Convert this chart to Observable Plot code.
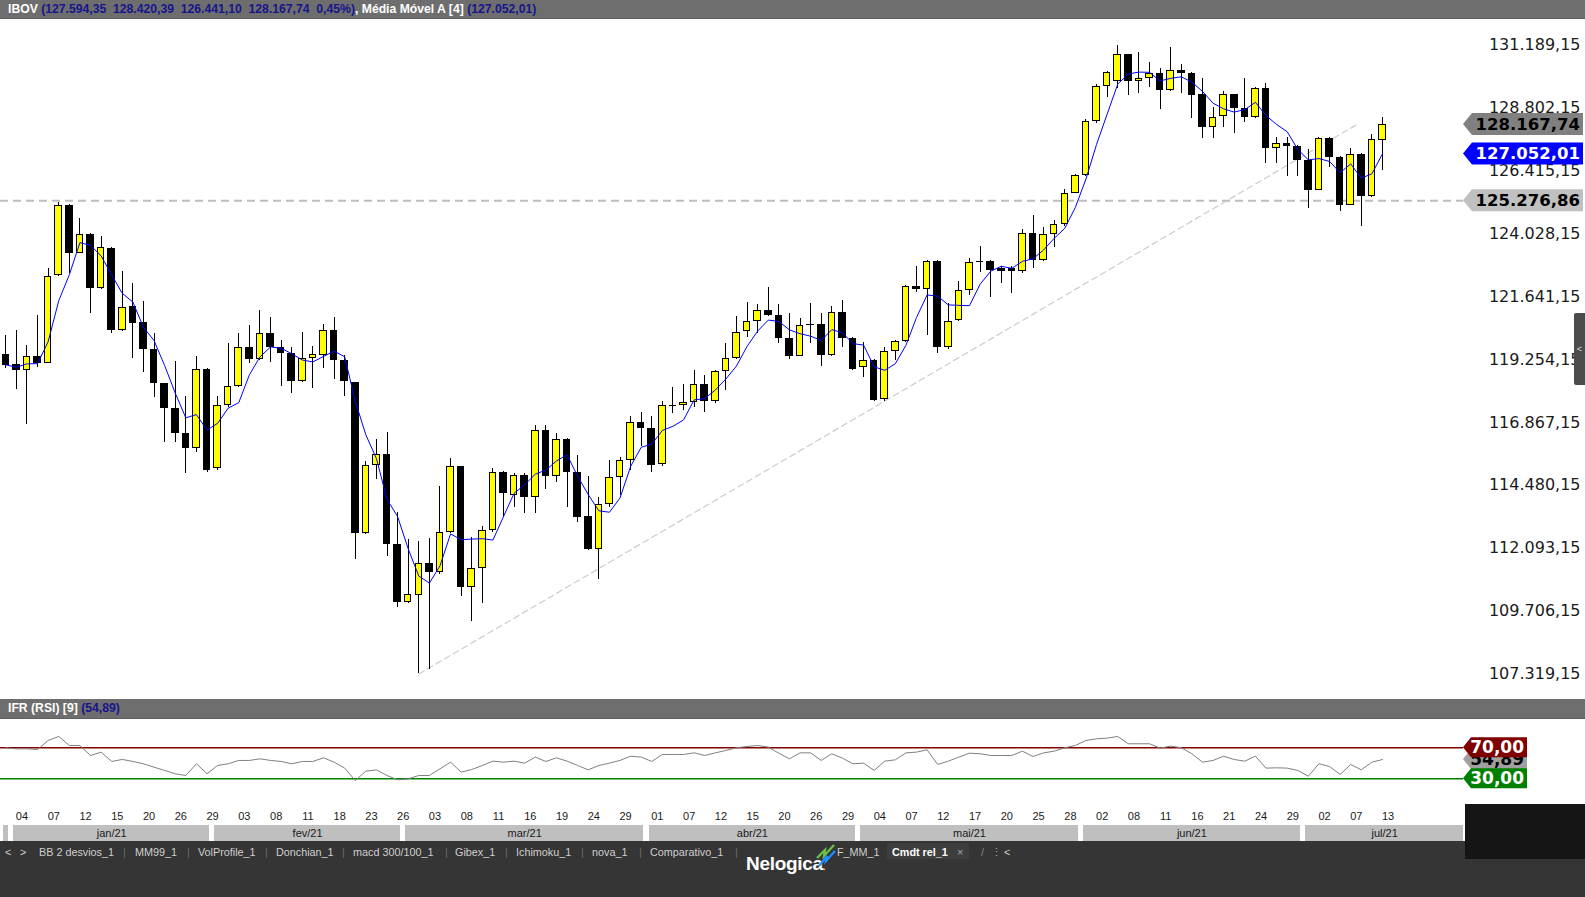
<!DOCTYPE html>
<html lang="pt-BR">
<head>
<meta charset="utf-8">
<title>IBOV</title>
<script src="https://cdn.jsdelivr.net/npm/d3@7"></script>
<script src="https://cdn.jsdelivr.net/npm/@observablehq/plot@0.6"></script>
<style>
  html, body { margin: 0; padding: 0; background: #fff; }
  #root { position: relative; width: 1585px; height: 897px; overflow: hidden; background: #fff; font-family: "Liberation Sans", Arial, sans-serif; }
  .abs { position: absolute; }
  .hbar { position: absolute; left: 0; width: 1585px; background: #6e6e6e; color: #fff; font-weight: bold; font-size: 12.2px; white-space: pre; box-sizing: border-box; border-bottom: 1px solid #5e5e5e; }
  .hbar .n { color: #16168c; }
  .tab { position: absolute; top: 845px; font-size: 10.8px; color: #cfcfcf; white-space: pre; line-height: 14px; }
  .sep { color: #6c6c6c; }
  svg { display: block; }
</style>
</head>
<body>
<div id="root">
  <div class="hbar" style="top:0;height:19px;line-height:18px;padding-left:8px">IBOV <span class="n">(127.594,35  128.420,39  126.441,10  128.167,74  0,45%)</span>, Média Móvel A [4] <span class="n">(127.052,01)</span></div>
  <div id="main" class="abs" style="left:0;top:19px"></div>
  <div class="abs" style="left:1574px;top:313px;width:11px;height:72px;background:#4b4b4b;border-radius:2px 0 0 2px;color:#ddd;font-size:9px;line-height:72px;text-align:center">&lt;</div>
  <div class="hbar" style="top:699px;height:20px;line-height:19px;padding-left:8px">IFR (RSI) [9] <span class="n">(54,89)</span></div>
  <div id="rsi" class="abs" style="left:0;top:719px"></div>
  <div id="dates" class="abs" style="left:0;top:795px"></div>
  <div class="abs" style="left:0;top:841px;width:1585px;height:56px;background:#353535"></div>
  <div class="abs" style="left:1465px;top:804px;width:120px;height:55px;background:#151515"></div>

  <div class="tab" style="left:5px">&lt;</div>
  <div class="tab" style="left:20px">&gt;</div>
  <div class="tab" style="left:39px">BB 2 desvios_1</div>
  <div class="tab sep" style="left:123px">|</div>
  <div class="tab" style="left:135px">MM99_1</div>
  <div class="tab sep" style="left:187px">|</div>
  <div class="tab" style="left:198px">VolProfile_1</div>
  <div class="tab sep" style="left:265px">|</div>
  <div class="tab" style="left:276px">Donchian_1</div>
  <div class="tab sep" style="left:342px">|</div>
  <div class="tab" style="left:353px">macd 300/100_1</div>
  <div class="tab sep" style="left:445px">|</div>
  <div class="tab" style="left:455px">Gibex_1</div>
  <div class="tab sep" style="left:505px">|</div>
  <div class="tab" style="left:516px">Ichimoku_1</div>
  <div class="tab sep" style="left:581px">|</div>
  <div class="tab" style="left:592px">nova_1</div>
  <div class="tab sep" style="left:639px">|</div>
  <div class="tab" style="left:650px">Comparativo_1</div>
  <div class="tab sep" style="left:735px">|</div>
  <div class="tab" style="left:837px">F_MM_1</div>
  <div class="abs" style="left:887px;top:843px;width:82px;height:16px;background:#3e3e3e"></div>
  <div class="tab" style="left:892px;color:#fff;font-weight:bold">Cmdt rel_1</div>
  <div class="tab" style="left:957px;color:#aaa">×</div>
  <div class="tab" style="left:981px;color:#888">/</div>
  <div class="tab" style="left:991px;color:#aaa">⋮</div>
  <div class="tab" style="left:1004px;color:#ccc">&lt;</div>
  <div class="abs" style="left:746px;top:853px;font-size:19px;font-weight:bold;color:#fff;letter-spacing:-0.3px;line-height:22px">Nelogica<span style="font-size:9px">.</span></div>
  <svg class="abs" style="left:815px;top:842px" width="22" height="26" viewBox="0 0 22 26">
    <polyline points="2,16 10,8 9,14 19,3" fill="none" stroke="#6cc24a" stroke-width="2.2"/>
    <polyline points="4,24 12,14 11,19 20,9" fill="none" stroke="#1e90ff" stroke-width="2.2"/>
  </svg>
</div>

<script>
// ---------- data ----------
const open = [
  119406,119027,118862,119356,119128,122442,125086,123302,123986,121974,
  123454,120380,121253,120646,119621,118306,117382,116433,115902,118862,
  115131,117534,118255,119697,119279,120228,119697,119469,118444,119317,
  119431,120329,119216,118368,112676,115257,115636,112221,110057,110323,
  111499,111196,112714,115168,110614,111348,112790,114953,114119,114840,
  114043,116547,114840,116206,114953,113258,112069,113777,114789,115447,
  116851,116623,115295,117500,117534,117660,118293,117698,118836,119317,
  120317,120721,121101,120911,120038,119393,120580,120570,119431,121025,
  120038,118976,119203,117761,119595,119975,122024,121936,122973,119722,
  120759,121898,122973,122973,122695,122695,122631,124023,123036,124023,
  124402,125579,126262,128299,129640,129817,130791,129842,129943,130095,
  129488,130209,130095,129273,128071,128476,129273,128767,128450,129526,
  127287,127438,127337,126806,125693,127628,126907,125124,127021,125465,
  127594.35
];
const high = [
  120165,120355,119786,120924,122695,125225,125150,124593,124049,123922,
  123500,122594,122126,121456,120228,118350,119179,117850,119368,118900,
  117850,119848,120228,120544,121113,120860,119975,119722,120266,119747,
  120582,120835,119406,118400,115370,116205,116471,113435,112410,112350,
  112450,114447,115485,115200,112487,112917,115105,115000,114915,114941,
  116750,116750,116459,116250,115611,114814,114030,115421,115523,117091,
  117230,117091,117661,118179,118305,118836,118647,118850,119848,120886,
  121404,121329,121974,121329,120987,120797,121366,120987,121265,121480,
  120101,119886,119250,119722,119975,122050,122783,123000,123000,121366,
  122227,123074,123542,123000,122796,122796,124175,124719,124251,124529,
  125693,126280,128349,129680,130180,131189,130830,130892,130512,130285,
  131107,130449,130130,129905,128805,129437,129320,129905,129580,129741,
  127691,127691,127380,127223,127666,127660,126950,127274,127060,127793,
  128420.39
];
const low = [
  118926,118103,116775,118938,119100,122400,122531,123264,121013,121900,
  120228,120300,119280,118748,117800,116117,116117,114915,115738,114979,
  115050,117450,118200,119089,119200,119153,118242,117976,118400,118166,
  118900,118508,117862,111651,112600,114687,111765,109842,110000,107319,
  107500,111100,112650,110273,109324,110007,112700,113271,113650,113397,
  113423,114308,114599,113625,113081,112000,110905,113650,114093,115042,
  115953,114979,115200,117192,117318,117450,117250,117600,118077,119250,
  120101,120228,120900,119848,119241,119350,119874,118988,119380,119722,
  118850,118558,117660,117660,119216,119900,121809,120165,119469,119650,
  120700,121683,122568,121619,122151,121771,122530,122720,122980,123492,
  124301,125540,126200,128197,129184,129526,129273,129336,129564,128729,
  129430,129336,128387,127628,127628,128071,127843,128261,128400,126705,
  126679,126211,126211,124997,125650,126553,124883,125080,124314,125420,
  126441.10
];
const close = [
  119052,118862,119356,119115,122379,125086,123302,123986,121974,123492,
  120380,121215,120646,119659,118369,117420,116471,115902,118862,115067,
  117496,118204,119697,119279,120228,119722,119494,118444,119279,119431,
  120329,119241,118444,112676,115219,115636,112258,110057,110323,111499,
  111196,112676,115168,110614,111298,112740,114953,114182,114840,114030,
  116547,114827,116206,114979,113271,112057,113739,114764,115421,116851,
  116649,115244,117496,117490,117609,118293,117698,118786,119279,120266,
  120683,121101,120949,120064,119393,120532,120570,119418,121025,120076,
  118900,119203,117723,119545,119912,121999,121936,122973,119722,120671,
  121872,122922,122960,122657,122631,122606,124023,123036,123985,124365,
  125541,126224,128286,129614,130133,130791,129817,129905,130095,129488,
  130209,130133,129298,128071,128425,129273,128805,128450,129526,127274,
  127438,127363,126831,125693,127628,126932,125124,127021,125465,127590,
  128167.74
];
const rsi = [
  70,68.7,68.7,67.8,79.5,84.6,73,73,60,64.4,
  52.4,55,52.4,49.4,45,40.8,36.5,34.3,49.4,36.5,
  47.2,49.4,53.7,53.7,55.8,53.7,52.4,49.4,52.4,52.4,
  57.1,51.5,43.8,27.8,39.9,41.6,34.3,28.7,30,34.3,
  34.3,42.9,51.5,38.6,42,47.2,52.8,51.5,52.8,50.2,
  58,52.4,57.1,52.8,47.2,41.6,47.2,50.2,53.7,59.2,
  58,52.4,61.4,61.4,61.4,63.5,60.1,63.5,66.6,70,
  71.7,73,70.9,63,55.8,63.5,63.5,53.7,62.3,56.7,
  49.4,50.2,40.8,52.8,54.5,63.5,64.4,67.4,48.5,52.8,
  58,63.1,62.3,60.1,60.1,60.1,65.7,58.8,63.5,65.7,
  70,73,79.5,81.6,82.5,84.6,75.2,75.2,75.2,69.6,
  72.2,70,62.3,51.5,53.7,59.2,54.9,52.8,59.2,43.8,
  44.2,43.8,40.8,33.4,49.4,45.9,35.6,48.5,41.6,51.5,
  54.89
];
const refLevel = 125276.86;     // horizontal dashed level
const maLast = 127052.01;       // Média Móvel A [4] last value
const rsiLast = 54.89;
const trendIdx = [39, 127.7];   // trendline (candle index)
const trendVal = [107319, 128199];
const yTicks = [107319.15,109706.15,112093.15,114480.15,116867.15,119254.15,121641.15,124028.15,126415.15,128802.15,131189.15];
const dayTickIdx = [1,4,7,10,13,16,19,22,25,28,31,34,37,40,43,46,49,52,55,58,61,64,67,70,73,76,79,82,85,88,91,94,97,100,103,106,109,112,115,118,121,124,127,130];
const dayTickLabels = ["04","07","12","15","20","26","29","03","08","11","18","23","26","03","08","11","16","19","24","29","01","07","12","15","20","26","29","04","07","12","17","20","25","28","02","08","11","16","21","24","29","02","07","13"];
const monthNames = ["", "jan/21", "fev/21", "mar/21", "abr/21", "mai/21", "jun/21", "jul/21"];
const monthFirst = [0, 1, 20, 38, 61, 81, 102, 123];
const monthLast  = [0, 19, 37, 60, 80, 101, 122, 130];

// ---------- build ----------
const fmtBR = d3.formatLocale({decimal: ",", thousands: ".", grouping: [3], currency: ["R$", ""]}).format(",.2f");
const rows = open.map((o, i) => ({i, o, h: high[i], l: low[i], c: close[i]}));
const rsiRows = rsi.map((r, i) => ({i, r}));
const trend = trendIdx.map((i, j) => ({i, v: trendVal[j]}));
const xDomain = [-0.5, 137.65];
const monthRows = monthNames.map((name, j) => ({
  name,
  x1: monthFirst[j] - 0.25,
  x2: j === monthNames.length - 1 ? xDomain[1] : monthLast[j] + 0.25
}));

function tagLayer(list, o) {
  return (index, scales, values, dims) => {
    const x0 = dims.width - dims.marginRight;
    const g = d3.create("svg:g");
    for (const t of list) {
      const y = scales.y(t.v);
      g.append("path")
        .attr("d", `M${x0},${y}L${x0 + o.tip},${y - o.h / 2}H${x0 + o.w}V${y + o.h / 2}H${x0 + o.tip}Z`)
        .attr("fill", t.fill);
      g.append("text")
        .attr("x", x0 + o.w - 3).attr("y", y).attr("dy", "0.36em")
        .attr("text-anchor", "end")
        .attr("font-family", "'DejaVu Sans', Verdana, sans-serif")
        .attr("font-weight", "bold").attr("font-size", o.fontSize)
        .attr("fill", t.color).text(t.label);
    }
    return g.node();
  };
}

const candleOpts = {x1: d => d.i - 0.31, x2: d => d.i + 0.31, y1: "o", y2: "c", stroke: "#000", strokeWidth: 1, shapeRendering: "crispEdges"};

const main = Plot.plot({
  width: 1585, height: 680,
  marginTop: 0, marginBottom: 0, marginLeft: 0, marginRight: 122,
  style: {background: "transparent", fontFamily: "'DejaVu Sans', Verdana, sans-serif", fontSize: "16px", color: "#1a1a1a", overflow: "visible"},
  x: {domain: xDomain, axis: null},
  y: {domain: [106351, 132157], axis: null},
  marks: [
    Plot.ruleY([refLevel], {stroke: "#bdbdbd", strokeWidth: 2, strokeDasharray: "8,5"}),
    Plot.line(trend, {x: "i", y: "v", stroke: "#cccccc", strokeWidth: 1.2, strokeDasharray: "6,4"}),
    Plot.ruleX(rows, {x: "i", y1: "l", y2: "h", stroke: "#000", strokeWidth: 1, shapeRendering: "crispEdges"}),
    Plot.rect(rows, {...candleOpts, filter: d => d.c >= d.o, fill: "#ffff00"}),
    Plot.rect(rows, {...candleOpts, filter: d => d.c < d.o, fill: "#000000"}),
    Plot.lineY(rows, Plot.windowY({k: 4, anchor: "end"}, {x: "i", y: "c", stroke: "#0000ff", strokeWidth: 1})),
    Plot.axisY(yTicks, {anchor: "right", tickSize: 0, tickPadding: 0, textAnchor: "end", dx: 117, tickFormat: fmtBR, color: "#1a1a1a"}),
    tagLayer([
      {v: close[close.length - 1], label: fmtBR(close[close.length - 1]), fill: "#808080", color: "#000"},
      {v: maLast, label: fmtBR(maLast), fill: "#0000ff", color: "#fff"},
      {v: refLevel, label: fmtBR(refLevel), fill: "#c0c0c0", color: "#000"}
    ], {w: 120, h: 22, tip: 9, fontSize: 16.5})
  ]
});
document.getElementById("main").append(main);

const rsiPlot = Plot.plot({
  width: 1585, height: 76,
  marginTop: 0, marginBottom: 0, marginLeft: 0, marginRight: 122,
  style: {background: "transparent", overflow: "visible"},
  x: {domain: xDomain, axis: null},
  y: {domain: [8.5, 106.5], axis: null},
  marks: [
    Plot.ruleY([70], {stroke: "#800000", strokeWidth: 1.5}),
    Plot.ruleY([30], {stroke: "#008000", strokeWidth: 1.5}),
    Plot.line(rsiRows, {x: "i", y: "r", stroke: "#808080", strokeWidth: 1}),
    tagLayer([{v: rsiLast, label: fmtBR(rsiLast), fill: "#a0a0a0", color: "#000"}], {w: 64, h: 20, tip: 8, fontSize: 17}),
    tagLayer([
      {v: 70, label: fmtBR(70), fill: "#800000", color: "#fff"},
      {v: 30, label: fmtBR(30), fill: "#008000", color: "#fff"}
    ], {w: 64, h: 20, tip: 8, fontSize: 17})
  ]
});
document.getElementById("rsi").append(rsiPlot);

const datePlot = Plot.plot({
  width: 1585, height: 46,
  marginTop: 30, marginBottom: 0, marginLeft: 0, marginRight: 122,
  style: {background: "transparent", fontFamily: "'Liberation Sans', Arial, sans-serif", fontSize: "11px", color: "#1a1a1a"},
  x: {domain: xDomain, axis: null},
  marks: [
    Plot.rect(monthRows, {x1: "x1", x2: "x2", fill: "#bfbfbf", shapeRendering: "crispEdges"}),
    Plot.text(monthRows.filter(d => d.name), {x: d => (d.x1 + d.x2) / 2, text: "name", frameAnchor: "middle", fill: "#1a1a1a"}),
    Plot.text(dayTickLabels, {x: (d, i) => dayTickIdx[i], text: d => d, frameAnchor: "top", dy: -13, dx: 5.6, fill: "#1a1a1a"})
  ]
});
document.getElementById("dates").append(datePlot);
</script>
</body>
</html>
